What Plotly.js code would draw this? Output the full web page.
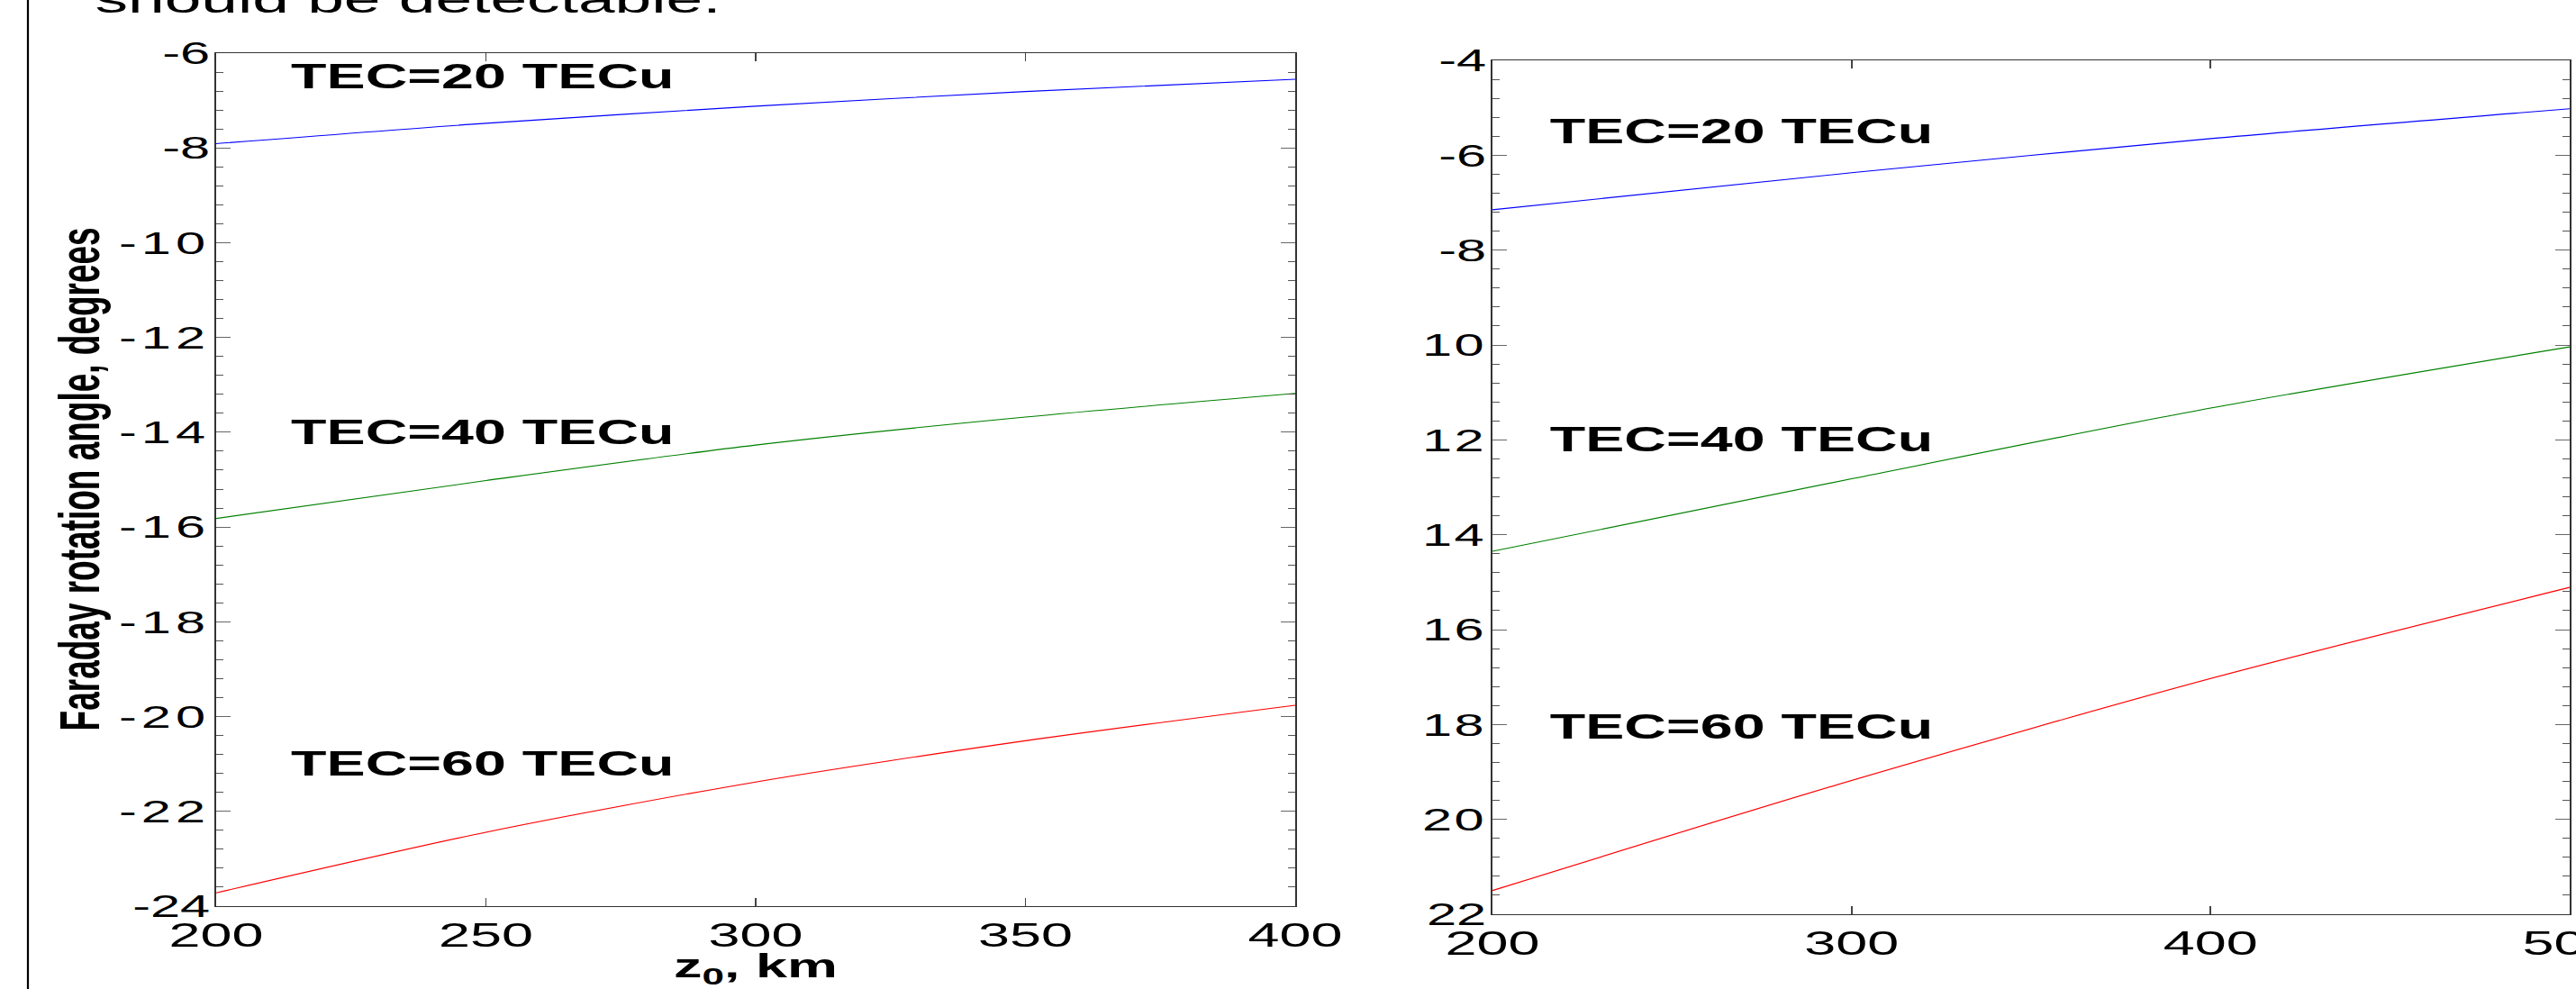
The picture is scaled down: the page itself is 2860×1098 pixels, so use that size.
<!DOCTYPE html>
<html>
<head>
<meta charset="utf-8">
<script src="https://cdn.plot.ly/plotly-3.0.1.min.js"></script>
<style>
  html, body { margin:0; padding:0; background:#fff; }
  #wrap { width:2860px; height:1098px; overflow:hidden; position:relative; background:#fff; }
  #plot { width:1682px; height:1098px; transform:scaleX(1.70036); transform-origin:0 0; }
</style>
</head>
<body>
<div id="wrap"><div id="plot"></div></div>
<script>
// ---- data ----
const xLeft = [200, 250, 300, 350, 400];
const tec20Left = [-7.91, -7.48, -7.12, -6.81, -6.55];
const tec40Left = [-15.82, -15.02, -14.27, -13.68, -13.18];
const tec60Left = [-23.72, -22.44, -21.38, -20.51, -19.76];

const xRight = [200, 300, 400, 500];
const tec20Right = [-7.15, -6.37, -5.65, -5.02];
const tec40Right = [-14.35, -12.82, -11.33, -10.04];
const tec60Right = [-21.5, -19.18, -17.03, -15.11];

const seriesNames = ['TEC=20 TECu', 'TEC=40 TECu', 'TEC=60 TECu'];
const seriesColors = ['#0000ff', '#008000', '#ff0000'];

const leftYTickVals = [-6, -8, -10, -12, -14, -16, -18, -20, -22, -24];
const leftYTickText = ['-6', '-8', '-10', '-12', '-14', '-16', '-18', '-20', '-22', '-24'];
const leftYWide = [false, false, true, true, true, true, true, true, true, false];
const rightYTickVals = [-4, -6, -8, -10, -12, -14, -16, -18, -20, -22];
const rightYTickText = ['-4', '-6', '-8', '10', '12', '14', '16', '18', '20', '22'];
const rightYWide = [false, false, false, true, true, true, true, true, true, false];
const leftXTickVals = [200, 250, 300, 350, 400];
const rightXTickVals = [200, 300, 400, 500];

const leftLabelY = [-6.5, -14.0, -21.0];
const rightLabelY = [-5.5, -12.0, -18.05];

const yTitle = 'Faraday rotation angle, degrees';
const xTitle = 'z<sub>0</sub>, km';
const slideText = 'should be detectable.';

// ---- build ----
const FONT = 'Liberation Sans, Arial, Helvetica, sans-serif';
const traces = [];
const leftY = [tec20Left, tec40Left, tec60Left];
const rightY = [tec20Right, tec40Right, tec60Right];
for (let i = 0; i < 3; i++) {
  traces.push({x: xLeft, y: leftY[i], xaxis: 'x', yaxis: 'y', type: 'scatter', mode: 'lines',
    name: seriesNames[i], line: {color: seriesColors[i], width: 1.1, shape: 'spline', smoothing: 0.8}, showlegend: false});
  traces.push({x: xRight, y: rightY[i], xaxis: 'x2', yaxis: 'y2', type: 'scatter', mode: 'lines',
    name: seriesNames[i], line: {color: seriesColors[i], width: 1.1, shape: 'spline', smoothing: 0.8}, showlegend: false});
}

function spaced(texts, wide, sp) {
  return texts.map((t, i) => wide[i] ? '<span style="letter-spacing:' + sp + 'px">' + t + '</span>' : t);
}

function yAxis(range, vals, text, domain, anchor) {
  return {
    domain: domain, anchor: anchor, range: range, autorange: false,
    tickmode: 'array', tickvals: vals, ticktext: text,
    ticks: 'inside', ticklen: 9.5, tickwidth: 1, tickcolor: '#666',
    minor: {dtick: 0.4, ticks: 'inside', ticklen: 4.8, tickcolor: '#555', tickwidth: 1, showgrid: false},
    showline: true, linecolor: '#333', linewidth: 1, mirror: 'ticks',
    showgrid: false, zeroline: false, ticklabelstandoff: -4,
    tickfont: {family: FONT, size: 35, color: '#000'}
  };
}
function xAxis(range, vals, domain, anchor) {
  return {
    domain: domain, anchor: anchor, range: range, autorange: false,
    tickmode: 'array', tickvals: vals, ticktext: vals.map(String),
    ticks: 'inside', ticklen: 9, tickwidth: 1, tickcolor: '#444',
    showline: true, linecolor: '#333', linewidth: 1, mirror: 'ticks',
    showgrid: false, zeroline: false, ticklabeloverflow: 'allow',
    tickfont: {family: FONT, size: 37, color: '#000'}
  };
}

const W = 1682, H = 1098;
const xdomL = [240 / 2860, 1438 / 2860];
const ydomL = [1 - 1006 / H, 1 - 59 / H];
const xdomR = [1657 / 2860, 2853 / 2860];
const ydomR = [1 - 1015 / H, 1 - 67 / H];

const layout = {
  width: W, height: H,
  margin: {l: 0, r: 0, t: 0, b: 0, pad: 0},
  paper_bgcolor: '#fff', plot_bgcolor: '#fff',
  showlegend: false,
  xaxis: Object.assign(xAxis([200, 400], leftXTickVals, xdomL, 'y'), {
    title: {text: xTitle, font: {family: FONT, size: 37, color: '#000', weight: 700}, standoff: 2}
  }),
  yaxis: yAxis([-24, -6], leftYTickVals, spaced(leftYTickText, leftYWide, 3), ydomL, 'x'),
  xaxis2: xAxis([200, 500], rightXTickVals, xdomR, 'y2'),
  yaxis2: yAxis([-22, -4], rightYTickVals, spaced(rightYTickText, rightYWide, 1.5), ydomR, 'x2'),
  annotations: [],
  shapes: [{type: 'line', xref: 'paper', yref: 'paper', x0: 31 / 2860, x1: 31 / 2860, y0: 0, y1: 1,
            line: {color: '#000', width: 1.3}}]
};
for (let i = 0; i < 3; i++) {
  layout.annotations.push({xref: 'x', yref: 'y', x: 213.4, y: leftLabelY[i], xanchor: 'left', yanchor: 'middle',
    text: seriesNames[i], showarrow: false, font: {family: FONT, size: 38, color: '#000', weight: 700}});
  layout.annotations.push({xref: 'x2', yref: 'y2', x: 215, y: rightLabelY[i], xanchor: 'left', yanchor: 'middle',
    text: seriesNames[i], showarrow: false, font: {family: FONT, size: 38, color: '#000', weight: 700}});
}
// y-axis title of the left panel
layout.annotations.push({xref: 'paper', yref: 'paper', x: 52.5 / W, y: 1 - 532 / H, xanchor: 'center', yanchor: 'middle',
  textangle: -90, text: yTitle, showarrow: false, font: {family: FONT, size: 37, color: '#000', weight: 700}});
// slide text cut at the top edge
layout.annotations.push({xref: 'paper', yref: 'paper', x: 102 / 2860, y: 1 - 25 / H, xanchor: 'left', yanchor: 'bottom',
  text: slideText, showarrow: false, font: {family: FONT, size: 43, color: '#000'}});

Plotly.newPlot('plot', traces, layout, {staticPlot: true, displayModeBar: false});
</script>
</body>
</html>
